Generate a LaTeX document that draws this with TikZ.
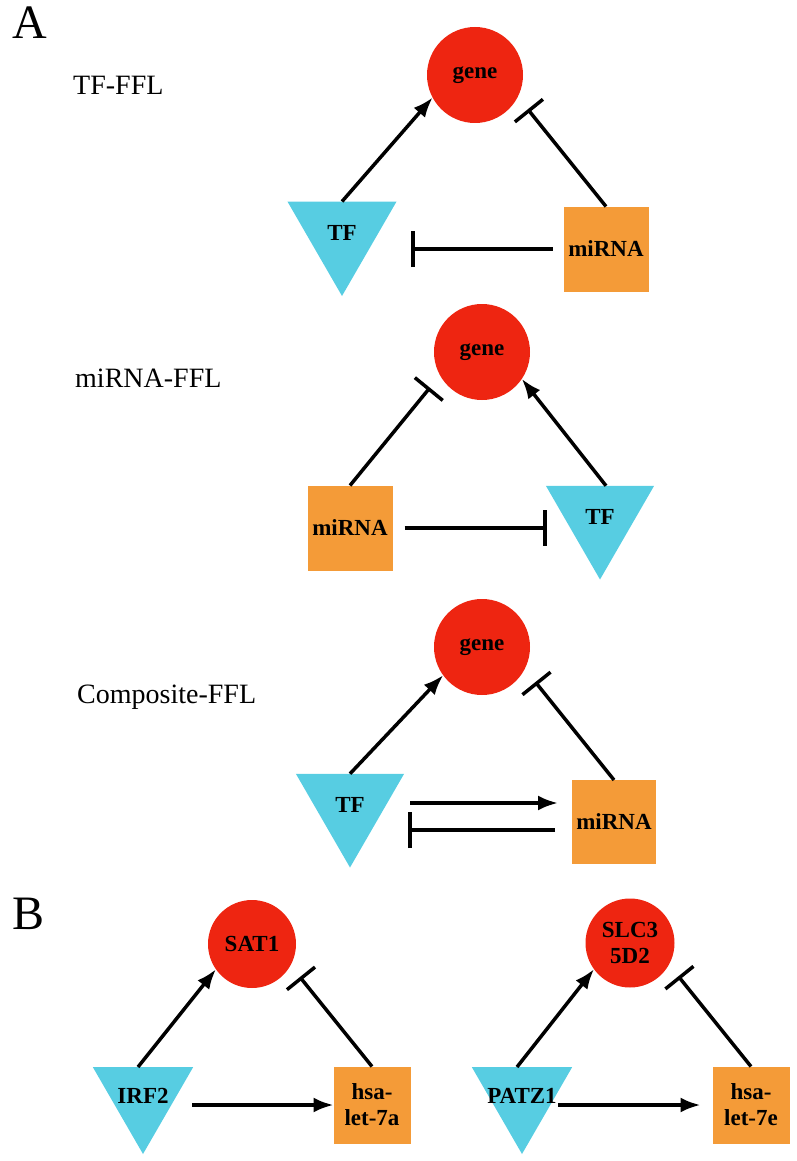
\documentclass[tikz,border=0pt]{standalone}
\usepackage{fontspec}
\setmainfont{Liberation Serif}
\usetikzlibrary{arrows.meta,shapes.geometric,calc}
\definecolor{genered}{HTML}{EE2511}
\definecolor{tfcyan}{HTML}{57CDE2}
\definecolor{mirorange}{HTML}{F49B38}
\newcommand{\nodefont}{\bfseries\fontsize{23}{26}\selectfont}
\tikzset{
  gene/.style={circle, fill=genered, minimum size=#1, inner sep=0pt, outer sep=0pt, align=center, font=\nodefont},
  tfnode/.style={regular polygon, regular polygon sides=3, shape border rotate=180, fill=tfcyan, minimum size=#1, inner sep=0pt, outer sep=0pt},
  mirbox/.style={rectangle, fill=mirorange, minimum width=#1, minimum height=#1, inner sep=0pt, outer sep=0pt, align=center, font=\nodefont},
  act/.style={line width=3.5pt, -{Latex[length=20pt,width=15pt]}},
  inh/.style={line width=3.5pt, -{Bar[width=36pt]}},
  every label/.style={font=\nodefont},
  loopname/.style={font=\fontsize{28}{30}\selectfont, anchor=base west, inner sep=0pt},
  panel/.style={font=\fontsize{48}{50}\selectfont, anchor=base west, inner sep=0pt}
}
\begin{document}
\begin{tikzpicture}[x=1pt,y=-1pt]
\useasboundingbox (0,0) rectangle (797,1161);
\node[panel] (pa) at (12,39) {A};
% TF-FFL
\node[loopname] (n1) at (73,95) {TF-FFL};
\node[gene=96pt] (gene1) at (475,75) {gene};
\node[tfnode=126pt, label=center:TF] (tf1) at (342,233) {};
\node[mirbox=85pt] (mir1) at (606,249) {miRNA};
\draw[act] (tf1.90) -- (gene1.208);
\draw[inh, shorten >=16pt] (mir1.north) -- (gene1.333);
\draw[inh, shorten <=11pt, shorten >=33pt] (mir1.west) -- (mir1.west -| tf1.0);
% miRNA-FFL
\node[loopname] (n2) at (75,387) {miRNA-FFL};
\node[gene=96pt] (gene2) at (482,352) {gene};
\node[mirbox=85pt] (mir2) at (350,528) {miRNA};
\node[tfnode=125pt, label=center:TF] (tf2) at (600,517) {};
\draw[inh, shorten >=16pt] (mir2.north) -- (gene2.209);
\draw[act] ([xshift=6pt]tf2.90) -- (gene2.326);
\draw[inh, shorten <=12pt, shorten >=17pt] (mir2.east) -- (mir2.east -| tf2.180);
% Composite-FFL
\node[loopname] (n3) at (77,703) {Composite-FFL};
\node[gene=96pt] (gene3) at (482,647) {gene};
\node[tfnode=125pt, label=center:TF] (tf3) at (350,805) {};
\node[mirbox=84pt] (mir3) at (614,822) {miRNA};
\draw[act] (tf3.90) -- (gene3.216);
\draw[inh, shorten >=17pt] (mir3.north) -- (gene3.333);
\draw[act, shorten <=24pt, shorten >=14pt] ([yshift=2pt]tf3.0) -- ([yshift=2pt]tf3.0 -| mir3.west);
\draw[inh, shorten <=17pt, shorten >=22pt] ([yshift=-8pt]mir3.west) -- ([yshift=-8pt]mir3.west -| tf3.0);
% panel B
\node[panel] (pb) at (12,929) {B};
\node[gene=88pt] (sat1) at (252,944) {SAT1};
\node[tfnode=116pt, label=center:IRF2] (irf2) at (143,1096) {};
\node[mirbox=77pt] (let7a) at (372,1105) {hsa-\\let-7a};
\draw[act] ([xshift=-5pt]irf2.90) -- (sat1.215);
\draw[inh, shorten >=15pt] (let7a.north) -- (sat1.331);
\draw[act, shorten <=16pt] (let7a.west -| irf2.0) -- (let7a.west);
\node[gene=89pt] (slc) at (630,943) {SLC3\\5D2};
\node[tfnode=116pt, label=center:PATZ1] (patz1) at (522,1096) {};
\node[mirbox=77pt] (let7e) at (751,1105) {hsa-\\let-7e};
\draw[act] ([xshift=-5pt]patz1.90) -- (slc.216);
\draw[inh, shorten >=15pt] (let7e.north) -- (slc.331);
\draw[act, shorten <=3pt, shorten >=12pt] (let7e.west -| patz1.0) -- (let7e.west);
\end{tikzpicture}
\end{document}
